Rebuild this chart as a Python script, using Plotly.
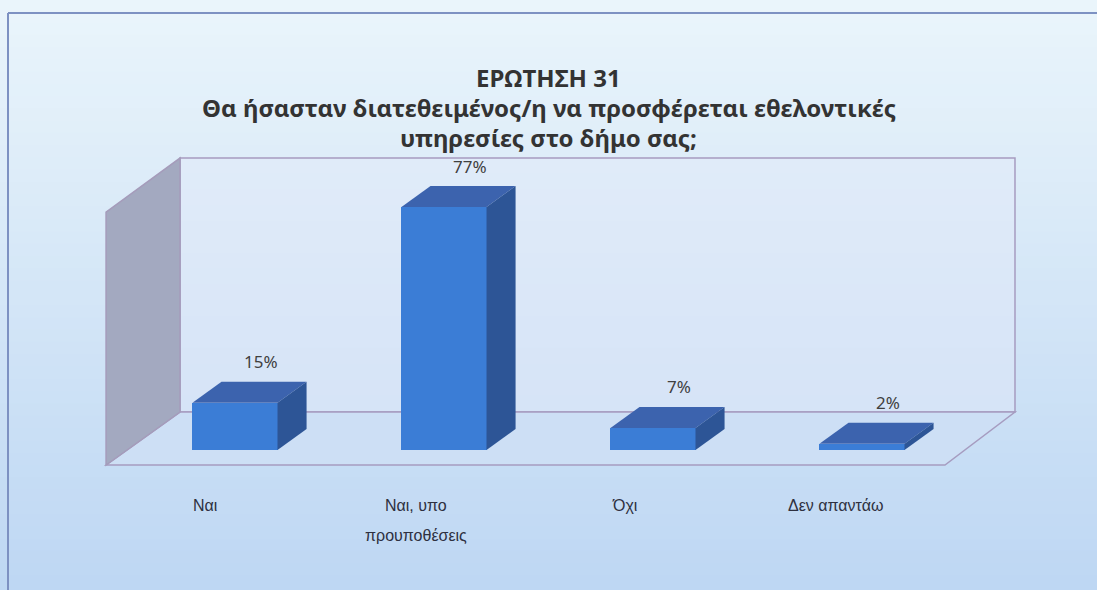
import plotly.graph_objects as go

# Survey answers (question 31) and their shares in percent
categories = ["Ναι", "Ναι, υπο<br>προυποθέσεις", "Όχι", "Δεν απαντάω"]
values = [15, 77, 7, 2]
value_labels = ["15%", "77%", "7%", "2%"]
title_lines = [
    "ΕΡΩΤΗΣΗ 31",
    "Θα ήσασταν διατεθειμένος/η να προσφέρεται εθελοντικές",
    "υπηρεσίες στο δήμο σας;",
]

W, H = 1097, 590
X_RANGE = [-1.1244, 4.1244]
Y_RANGE = [-44.36, 142.59]

# pseudo-3D styling
BAR_W = 0.407
DX, DY = 0.139, 6.65            # depth offset of a bar (data units)
FLOOR_FRONT = (-0.617, 3.397, -4.75)   # left x, right x, y of floor front edge
WALL_BACK = (-0.263, 3.732, 12.04, 92.5)  # left x, right x, bottom y, top y
SIDE_FRONT_TOP = 75.4

FRONT_C = "#3b7dd6"
TOP_C = "#3c63ae"
SIDE_C = "#2d5596"
EDGE_C = "#a69cc0"

fig = go.Figure()
x_idx = list(range(len(categories)))

fig.add_trace(go.Bar(
    x=x_idx, y=values, width=BAR_W, base=0,
    marker=dict(color=FRONT_C, line=dict(width=0)),
    hoverinfo="skip", showlegend=False,
))

shapes = []


def band_fill(ref_x, ref_y, x0, x1, y0, y1, c_top, c_bot, n):
    """Vertical gradient approximated by n stacked rectangles."""
    out = []
    for k in range(n):
        t = k / (n - 1)
        c = tuple(round(c_top[j] + (c_bot[j] - c_top[j]) * t) for j in range(3))
        ya = y1 - (y1 - y0) * (k + 1) / n
        yb = y1 - (y1 - y0) * k / n
        out.append(dict(
            type="rect", xref=ref_x, yref=ref_y, layer="below",
            x0=x0, x1=x1, y0=ya, y1=yb + (y1 - y0) * 0.004,
            fillcolor="rgb(%d,%d,%d)" % c, line=dict(width=0),
        ))
    return out


# page background
shapes += band_fill("paper", "paper", 0, 1, 0, 1, (234, 245, 251), (190, 215, 243), 48)

# frame
shapes.append(dict(type="line", xref="paper", yref="paper", layer="below",
                   x0=8 / W, x1=1, y0=1 - 13 / H, y1=1 - 13 / H,
                   line=dict(color="#7d91c2", width=2)))
shapes.append(dict(type="line", xref="paper", yref="paper", layer="below",
                   x0=8 / W, x1=8 / W, y0=0, y1=1 - 13 / H,
                   line=dict(color="#7d91c2", width=2)))

fl, fr, fy = FLOOR_FRONT
bl, br, by, bt = WALL_BACK

# back wall
shapes += band_fill("x", "y", bl, br, by, bt, (224, 235, 249), (214, 228, 247), 16)
shapes.append(dict(type="rect", xref="x", yref="y", layer="below",
                   x0=bl, x1=br, y0=by, y1=bt,
                   fillcolor="rgba(0,0,0,0)", line=dict(color=EDGE_C, width=1.5)))
# floor
shapes.append(dict(type="path", xref="x", yref="y", layer="below",
                   path=f"M{fl},{fy} L{bl},{by} L{br},{by} L{fr},{fy} Z",
                   fillcolor="#cddff5", line=dict(color=EDGE_C, width=1.5)))
# side wall
shapes.append(dict(type="path", xref="x", yref="y", layer="below",
                   path=f"M{fl},{fy} L{fl},{SIDE_FRONT_TOP} L{bl},{bt} L{bl},{by} Z",
                   fillcolor="#a3a9c0", line=dict(color="#a59cbb", width=1.5)))

# top and side faces of each bar, derived from its value
for i, v in zip(x_idx, values):
    x0, x1 = i - BAR_W / 2, i + BAR_W / 2
    shapes.append(dict(type="path", xref="x", yref="y", layer="above",
                       path=f"M{x0},{v} L{x0 + DX},{v + DY} L{x1 + DX},{v + DY} L{x1},{v} Z",
                       fillcolor=TOP_C, line=dict(width=0)))
    shapes.append(dict(type="path", xref="x", yref="y", layer="above",
                       path=f"M{x1},0 L{x1},{v} L{x1 + DX},{v + DY} L{x1 + DX},{DY} Z",
                       fillcolor=SIDE_C, line=dict(width=0)))

annotations = []

# title
for k, line in enumerate(title_lines):
    annotations.append(dict(
        xref="paper", yref="paper", x=0.5, y=1 - (77 + 30 * k) / H,
        text=f"<b>{line}</b>", showarrow=False, xanchor="center", yanchor="middle",
        font=dict(family="Noto Sans", size=24, color="#333333"),
    ))

# value labels above each bar
for i, v, lab in zip(x_idx, values, value_labels):
    annotations.append(dict(
        xref="x", yref="y", x=i + DX * 0.9, y=v + DY, yshift=20,
        text=lab, showarrow=False, xanchor="center", yanchor="middle",
        font=dict(family="Noto Sans", size=17, color="#404040"),
    ))

# category labels centred under the floor front edge segments
seg = (fr - fl) / len(categories)
for i, cat in enumerate(categories):
    xc = fl + (i + 0.5) * seg
    for k, part in enumerate(cat.split("<br>")):
        annotations.append(dict(
            xref="x", yref="paper", x=xc, xshift=-5, y=1 - (505 + 30 * k) / H,
            text=part, showarrow=False, xanchor="center", yanchor="middle",
            font=dict(family="Liberation Sans", size=16, color="#2e3040"),
        ))

fig.update_layout(
    width=W, height=H,
    margin=dict(l=0, r=0, t=0, b=0),
    paper_bgcolor="#dce9f7", plot_bgcolor="rgba(0,0,0,0)",
    xaxis=dict(range=X_RANGE, visible=False, fixedrange=True),
    yaxis=dict(range=Y_RANGE, visible=False, fixedrange=True),
    shapes=shapes, annotations=annotations,
    bargap=0, showlegend=False,
)

fig.write_html("out.html")
